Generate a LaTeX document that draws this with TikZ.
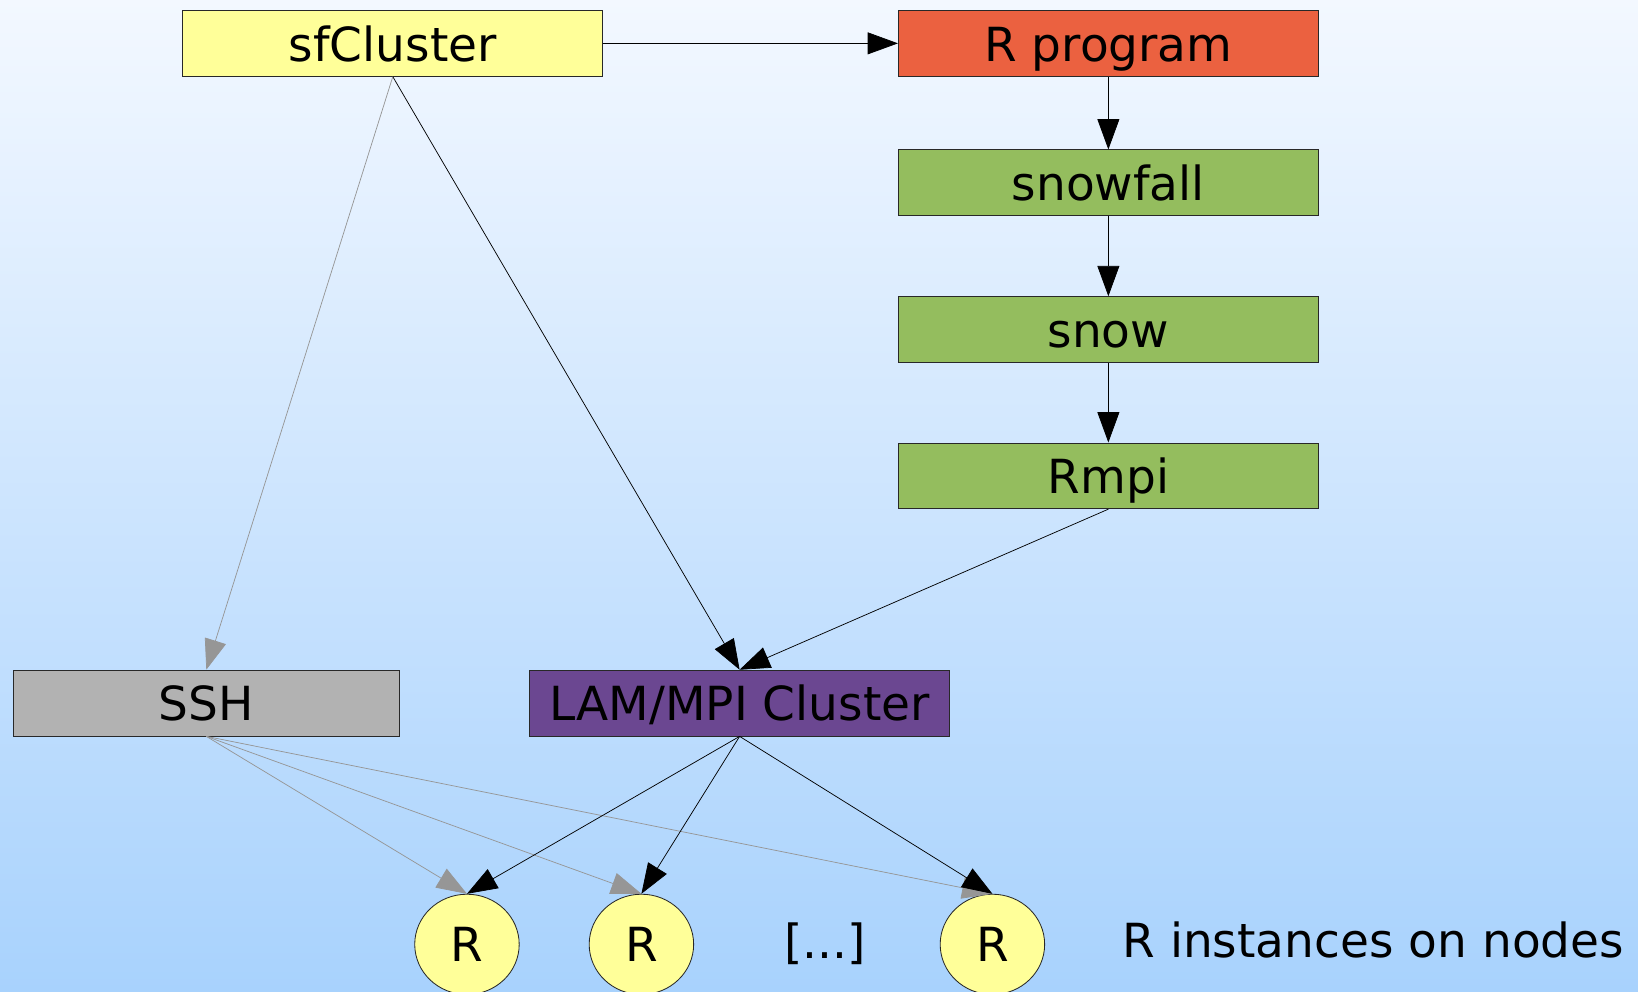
\documentclass[tikz,border=0pt]{standalone}
\usepackage{fontspec}
\setmainfont{DejaVu Sans}
\usetikzlibrary{arrows.meta,shapes.geometric}

\definecolor{bgtop}{RGB}{243,248,255}
\definecolor{bgbot}{RGB}{168,210,253}
\definecolor{boxyellow}{RGB}{255,255,153}
\definecolor{boxred}{RGB}{235,97,64}
\definecolor{boxgreen}{RGB}{148,189,94}
\definecolor{boxgray}{RGB}{178,178,178}
\definecolor{boxpurple}{RGB}{107,71,145}
\definecolor{edgegray}{RGB}{150,150,150}
\definecolor{outline}{RGB}{40,40,40}

\tikzset{
  label font/.style={font=\fontsize{45}{45}\selectfont},
  pkgbox/.style={draw=outline, line width=0.8pt, rectangle, minimum width=402pt,
                 minimum height=63pt, inner sep=0pt, text height=34pt, text depth=0pt,
                 label font},
  rnode/.style={draw=outline, line width=0.8pt, ellipse, fill=boxyellow,
                minimum width=100pt, minimum height=96pt, inner sep=0pt, label font},
  flow/.style={line width=0.7pt, black, -{Triangle[length=29pt,width=21pt]}},
  sshflow/.style={line width=0.7pt, edgegray, -{Triangle[length=29pt,width=21pt]}},
}

\begin{document}
\begin{tikzpicture}[x=1pt, y=-1pt]
  % background
  \shade[top color=bgtop, bottom color=bgbot] (0,0) rectangle (1568,949);
  \useasboundingbox (0,0) rectangle (1568,949);

  % package stack
  \node[pkgbox, fill=boxyellow] (sfc) at (376,41.5) {sfCluster};
  \node[pkgbox, fill=boxred] (rprog) at (1061,41.5) {R program};
  \node[pkgbox, fill=boxgreen] (snowfall) at (1061,175) {snowfall};
  \node[pkgbox, fill=boxgreen] (snow) at (1061,315.5) {snow};
  \node[pkgbox, fill=boxgreen] (rmpi) at (1061,455.5) {Rmpi};

  % transport layers
  \node[pkgbox, fill=boxgray, minimum width=369pt] (ssh) at (197.5,673) {SSH};
  \node[pkgbox, fill=boxpurple] (lam) at (708,673) {LAM/MPI Cluster};

  % R worker instances
  \node[rnode] (r1) at (447,904) {R};
  \node[rnode] (r2) at (614,904) {R};
  \node[rnode] (r3) at (950,904) {R};
  \node[label font] (dots) at (790,903) {[...]};
  \node[label font, anchor=west] (legend) at (1071,900) {R instances on nodes};

  % connectors
  \draw[flow] (sfc.east) -- (rprog.west);
  \draw[flow] (rprog.south) -- (snowfall.north);
  \draw[flow] (snowfall.south) -- (snow.north);
  \draw[flow] (snow.south) -- (rmpi.north);
  \draw[flow] (rmpi.south) -- (lam.north);
  \draw[flow] (sfc.south) -- (lam.north);
  \draw[sshflow] (sfc.south) -- (ssh.north);

  \draw[sshflow] (ssh.south) -- (r1.north);
  \draw[sshflow] (ssh.south) -- (r2.north);
  \draw[sshflow] (ssh.south) -- (r3.north);

  \draw[flow] (lam.south) -- (r1.north);
  \draw[flow] (lam.south) -- (r2.north);
  \draw[flow] (lam.south) -- (r3.north);
\end{tikzpicture}
\end{document}
